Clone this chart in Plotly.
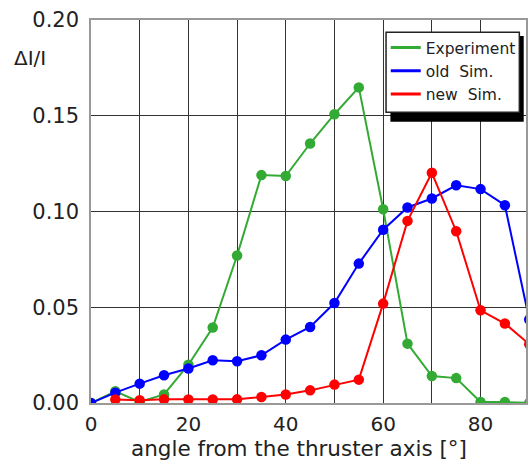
import plotly.graph_objects as go

angles = [0, 5, 10, 15, 20, 25, 30, 35, 40, 45, 50, 55, 60, 65, 70, 75, 80, 85, 90]
experiment = [0.0, 0.0061, 0.0005, 0.0045, 0.0200, 0.0394, 0.0770, 0.1190, 0.1185,
              0.1355, 0.1508, 0.1648, 0.1012, 0.0310, 0.0141, 0.0130, 0.0005, 0.0005, 0.0]
old_sim = [0.0, 0.0054, 0.0101, 0.0145, 0.0180, 0.0223, 0.0218, 0.0249, 0.0331,
           0.0397, 0.0522, 0.0728, 0.0905, 0.1021, 0.1068, 0.1137, 0.1117, 0.1033, 0.0436]
new_angles = [5, 10, 15, 20, 25, 30, 35, 40, 45, 50, 55, 60, 65, 70, 75, 80, 85, 90]
new_sim = [0.0018, 0.0014, 0.0019, 0.0018, 0.0018, 0.0019, 0.0031, 0.0044, 0.0066,
           0.0096, 0.0122, 0.0519, 0.0951, 0.1202, 0.0897, 0.0484, 0.0415, 0.0307]
series_names = ["Experiment", "old  Sim.", "new  Sim."]
colors = ["#33aa33", "#0000ff", "#ff0000"]
y_ticks = [0.0, 0.05, 0.10, 0.15, 0.20]
x_ticks = [0, 20, 40, 60, 80]

W, H = 528, 461
L, T, B = 90.7, 20, 58
px_per_unit = 4.895
x_max = (W - L) / px_per_unit
plot_w = W - L
plot_h = H - T - B

def px2paper(px, py):
    return (px - L) / plot_w, (H - B - py) / plot_h

fig = go.Figure()
data = [(angles, experiment), (angles, old_sim), (new_angles, new_sim)]
for (xs, ys), name, c in zip(data, series_names, colors):
    fig.add_trace(go.Scatter(x=xs, y=ys, mode="lines+markers", name=name,
                             line=dict(color=c, width=2),
                             marker=dict(color=c, size=10.5),
                             showlegend=False))
for name, c in zip(series_names, colors):
    fig.add_trace(go.Scatter(x=[None], y=[None], mode="lines", name=name,
                             line=dict(color=c, width=3)))

# legend box + shadow
sx0, sy0 = px2paper(391.7, 36)
sx1, sy1 = px2paper(525.7, 121.7)
bx0, by0 = px2paper(387.3, 32.3)
bx1, by1 = px2paper(521.3, 112.3)
fig.add_shape(type="rect", xref="paper", yref="paper", x0=sx0, x1=sx1, y0=sy1, y1=sy0,
              fillcolor="black", line=dict(width=0), layer="above")
fig.add_shape(type="rect", xref="paper", yref="paper", x0=bx0, x1=bx1, y0=by1, y1=by0,
              fillcolor="white", line=dict(color="#222", width=1.5), layer="above")

lx, ly = px2paper(387, 31)
fig.update_layout(
    width=W, height=H,
    margin=dict(l=L, r=0, t=T, b=B),
    plot_bgcolor="white", paper_bgcolor="white",
    font=dict(family="DejaVu Sans", color="#222", size=21),
    showlegend=True,
    legend=dict(x=lx, y=ly, xanchor="left", yanchor="top",
                bgcolor="rgba(0,0,0,0)", borderwidth=0,
                font=dict(size=15.5, color="#222"), itemwidth=30,
                tracegroupgap=0),
    xaxis=dict(range=[0, x_max], tickvals=x_ticks, ticks="",
               tickfont=dict(size=20),
               showgrid=True, gridcolor="#333", gridwidth=1,
               minor=dict(dtick=10, showgrid=True, gridcolor="#333", gridwidth=1),
               showline=True, linecolor="#999", linewidth=1.5, mirror=True,
               zeroline=False, ticklabelstandoff=2),
    yaxis=dict(range=[0, 0.20], tickvals=y_ticks, tickformat=".2f", ticks="",
               showgrid=True, gridcolor="#333", gridwidth=1,
               showline=True, linecolor="#999", linewidth=1.5, mirror=True,
               zeroline=False, ticklabelstandoff=6),
    annotations=[
        dict(text="ΔI/I", xref="paper", yref="paper",
             x=px2paper(11, 0)[0], y=px2paper(0, 58)[1],
             xanchor="left", yanchor="middle", showarrow=False,
             font=dict(size=20, color="#222")),
        dict(text="angle from the thruster axis [°]", xref="paper", yref="paper",
             x=px2paper(300, 0)[0], y=px2paper(0, 448)[1],
             xanchor="center", yanchor="middle", showarrow=False,
             font=dict(size=21.5, color="#222")),
    ],
)
fig.write_html("out.html")
